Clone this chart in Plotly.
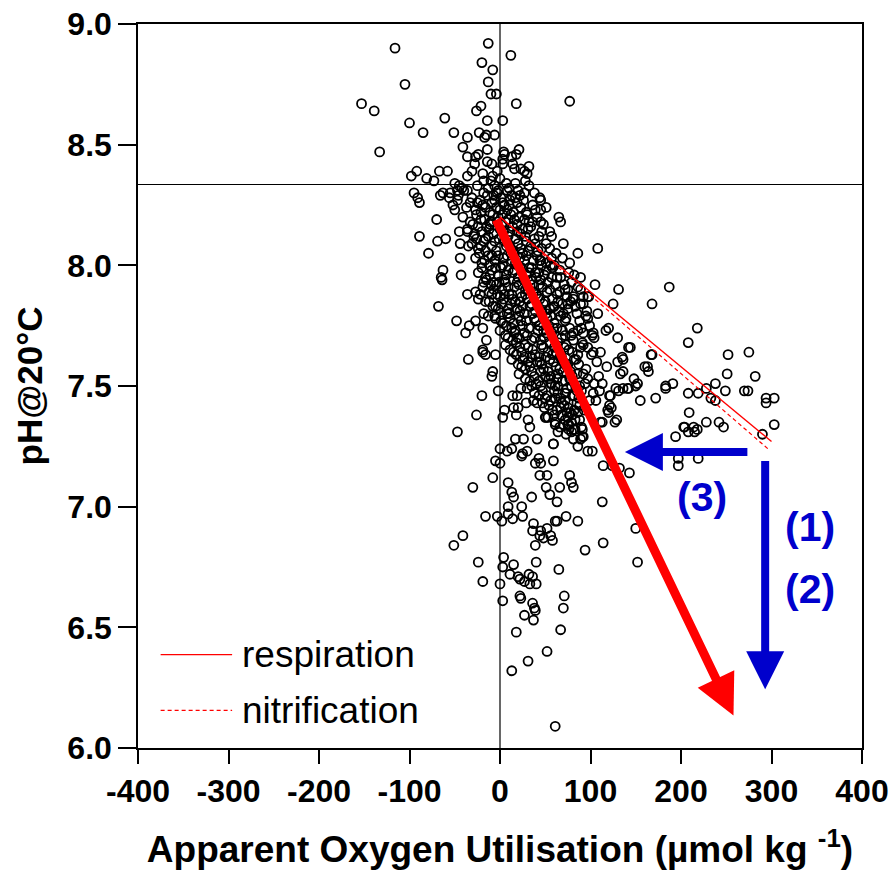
import plotly.graph_objects as go

# --- Samples: apparent oxygen utilisation (umol/kg) vs pH at 20 C -------------
# Surface waters, above the reference line
upper_samples = [
    (-116, 8.90), (-13, 8.92), (12, 8.87), (-20, 8.84), (-8, 8.81), (-105, 8.75),
    (-13, 8.76), (-10, 8.71), (-4, 8.71), (-153, 8.67), (-139, 8.64), (18, 8.67),
    (77, 8.68), (-21, 8.66), (-26, 8.64), (-61, 8.61), (-100, 8.59), (-14, 8.60),
    (3, 8.60), (-85, 8.55), (-51, 8.55), (-36, 8.53), (-23, 8.55), (-15, 8.54),
    (-17, 8.53), (-6, 8.54), (-133, 8.47), (-41, 8.49), (-14, 8.48), (4, 8.47),
    (5, 8.46), (21, 8.48), (13, 8.45), (18, 8.46), (-36, 8.45), (-27, 8.45),
    (-24, 8.46), (-28, 8.42), (-14, 8.43), (-9, 8.42), (-3, 8.39), (3, 8.44),
    (3, 8.42), (14, 8.42), (23, 8.40), (32, 8.41), (16, 8.40), (27, 8.39),
    (-92, 8.39), (-98, 8.37), (-81, 8.36), (-73, 8.35), (-67, 8.39), (-58, 8.39),
    (-50, 8.34), (-36, 8.37), (-31, 8.39), (-19, 8.38), (-18, 8.35), (-8, 8.37),
    (-6, 8.33), (7, 8.34), (17, 8.34), (30, 8.38), (28, 8.35), (32, 8.33),
    (-10, 8.35), (0, 8.36), (10, 8.32), (20, 8.31), (-2, 8.31), (-25, 8.33), (-45, 8.33),
]

# Left flank of the main cloud
left_samples = [
    (-95, 8.30), (-63, 8.30), (-55, 8.30), (-47, 8.31), (-40, 8.31), (-13, 8.32),
    (-3, 8.30), (8, 8.31), (27, 8.30), (38, 8.30), (44, 8.28), (-91, 8.28),
    (-89, 8.26), (-66, 8.29), (-56, 8.28), (-46, 8.29), (-36, 8.31), (-47, 8.27),
    (-42, 8.32), (-52, 8.25), (-50, 8.23), (-70, 8.19), (-89, 8.12), (-69, 8.10),
    (-60, 8.11), (-79, 8.05), (-45, 8.14), (-36, 8.14), (-44, 8.09), (-35, 8.08),
    (-44, 8.03), (-63, 7.98), (-65, 7.95), (-43, 7.96), (-64, 7.94),
    (-68, 7.83), (-48, 7.77), (-38, 7.72), (-34, 7.75), (-27, 7.77), (-19, 7.74),
    (-15, 7.69), (-19, 7.65), (-5, 7.63), (-36, 7.88), (-27, 7.89), (-22, 7.88),
    (-24, 7.86), (-16, 7.85), (-8, 7.83), (-18, 7.80), (-13, 7.79), (-5, 7.78),
    (-3, 7.88), (-10, 7.92), (-18, 7.93), (-35, 7.61), (-19, 7.64), (-16, 7.63),
    (-8, 7.56), (-9, 7.54), (-20, 7.46), (-26, 7.38), (-47, 7.31), (-2, 7.48),
]

# Dense core of the cloud
core_samples = [
    (-31, 8.28), (-22, 8.27), (-14, 8.29), (-9, 8.26), (1, 8.28), (5, 8.25), (13, 8.29),
    (19, 8.26), (26, 8.27), (36, 8.25),
    (-37, 8.24), (-27, 8.23), (-19, 8.25), (-11, 8.22), (-4, 8.24), (3, 8.21), (10, 8.25),
    (15, 8.22), (23, 8.24), (30, 8.21), (39, 8.23), (51, 8.24),
    (-41, 8.20), (-33, 8.18), (-26, 8.21), (-17, 8.19), (-11, 8.17), (-2, 8.20), (6, 8.18),
    (12, 8.21), (19, 8.17), (27, 8.19), (34, 8.16), (41, 8.20), (55, 8.14),
    (-36, 8.15), (-29, 8.12), (-20, 8.14), (-15, 8.16), (-7, 8.13), (0, 8.15), (9, 8.12),
    (14, 8.16), (23, 8.13), (31, 8.15), (38, 8.11), (46, 8.14), (57, 8.12),
    (-31, 8.09), (-24, 8.07), (-18, 8.10), (-9, 8.08), (-4, 8.06), (5, 8.10), (12, 8.07),
    (20, 8.09), (25, 8.05), (34, 8.08), (42, 8.06), (51, 8.09), (62, 8.05),
    (-27, 8.03), (-20, 8.01), (-13, 8.04), (-6, 8.02), (3, 8.00), (8, 8.04), (17, 8.01),
    (22, 8.03), (32, 7.99), (37, 8.02), (46, 8.00), (57, 8.03), (66, 7.98), (77, 8.01),
    (-24, 7.97), (-16, 7.95), (-9, 7.98), (-2, 7.96), (5, 7.94), (14, 7.97), (19, 7.93),
    (29, 7.96), (34, 7.94), (43, 7.97), (53, 7.93), (63, 7.95), (71, 7.92), (82, 7.96),
    (-19, 7.91), (-12, 7.89), (-4, 7.92), (2, 7.90), (10, 7.88), (16, 7.91), (24, 7.87),
    (31, 7.90), (40, 7.88), (47, 7.91), (58, 7.86), (66, 7.89), (74, 7.87), (89, 7.90),
    (-12, 7.85), (-5, 7.83), (4, 7.86), (9, 7.82), (17, 7.85), (25, 7.83), (30, 7.86),
    (39, 7.81), (48, 7.84), (55, 7.82), (64, 7.85), (70, 7.80), (83, 7.83), (96, 7.81),
    (-6, 7.79), (1, 7.77), (8, 7.80), (15, 7.76), (21, 7.79), (29, 7.77), (36, 7.80),
    (44, 7.75), (52, 7.78), (60, 7.76), (67, 7.79), (77, 7.74), (88, 7.77), (99, 7.75),
    (0, 7.73), (6, 7.71), (13, 7.74), (19, 7.70), (27, 7.72), (35, 7.69), (42, 7.73),
    (49, 7.70), (57, 7.72), (64, 7.68), (72, 7.71), (81, 7.69), (92, 7.72), (104, 7.70),
    (6, 7.67), (11, 7.65), (18, 7.68), (24, 7.64), (31, 7.66), (39, 7.63), (46, 7.67),
    (53, 7.64), (60, 7.66), (68, 7.62), (76, 7.65), (86, 7.63), (97, 7.66),
    (13, 7.61), (20, 7.59), (27, 7.62), (33, 7.58), (41, 7.60), (48, 7.57), (55, 7.61),
    (62, 7.58), (70, 7.60), (78, 7.56), (87, 7.59), (95, 7.57), (107, 7.60),
    (21, 7.55), (28, 7.53), (35, 7.56), (43, 7.52), (50, 7.54), (57, 7.51), (64, 7.55),
    (72, 7.52), (80, 7.54), (88, 7.50), (97, 7.53), (104, 7.51),
    (30, 7.49), (38, 7.47), (45, 7.50), (52, 7.46), (60, 7.48), (67, 7.45), (74, 7.49),
    (82, 7.46), (90, 7.48), (99, 7.44),
    (41, 7.43), (49, 7.41), (56, 7.44), (63, 7.40), (71, 7.42), (78, 7.39), (85, 7.43),
    (93, 7.40), (53, 7.37), (61, 7.35), (68, 7.38), (76, 7.34), (83, 7.36), (90, 7.33),
    (64, 7.31), (73, 7.30), (81, 7.32),
    (-25, 8.26), (-16, 8.24), (-6, 8.27), (8, 8.23), (17, 8.28), (29, 8.22),
    (-30, 8.17), (-21, 8.19), (-12, 8.15), (-3, 8.18), (4, 8.14), (16, 8.19), (25, 8.15),
    (36, 8.18), (48, 8.17), (-26, 8.11), (-13, 8.12), (-1, 8.11), (7, 8.08), (17, 8.11),
    (29, 8.10), (39, 8.09), (55, 8.07), (-23, 8.05), (-16, 8.06), (-2, 8.04), (12, 8.05),
    (27, 8.02), (41, 8.04), (51, 8.01), (69, 8.03), (-20, 7.99), (-12, 8.00), (1, 7.99),
    (9, 7.98), (24, 7.99), (39, 7.97), (49, 7.96), (58, 7.99), (76, 7.97), (-15, 7.94),
    (-7, 7.93), (6, 7.93), (20, 7.95), (36, 7.92), (45, 7.94), (61, 7.92), (79, 7.93),
    (-9, 7.88), (0, 7.87), (13, 7.88), (28, 7.88), (44, 7.86), (52, 7.89), (69, 7.84),
    (81, 7.86), (-2, 7.82), (12, 7.84), (22, 7.81), (33, 7.83), (51, 7.80), (59, 7.83),
    (75, 7.82), (92, 7.84), (3, 7.76), (11, 7.78), (25, 7.75), (40, 7.77), (48, 7.73),
    (63, 7.74), (72, 7.77), (95, 7.79), (9, 7.70), (16, 7.72), (30, 7.71), (45, 7.69),
    (54, 7.75), (68, 7.70), (86, 7.73), (15, 7.64), (22, 7.66), (36, 7.65), (43, 7.62),
    (58, 7.63), (73, 7.67), (82, 7.61), (101, 7.63), (24, 7.58), (31, 7.60), (46, 7.59),
    (53, 7.56), (66, 7.57), (75, 7.59), (92, 7.55), (33, 7.52), (40, 7.51), (54, 7.53),
    (61, 7.50), (69, 7.52), (85, 7.48), (94, 7.51), (43, 7.46), (50, 7.45), (64, 7.47),
    (72, 7.44), (80, 7.46), (88, 7.42), (58, 7.40), (67, 7.41), (75, 7.37), (86, 7.39),
    (70, 7.34), (79, 7.31),
]

# Most crowded stretch along the main trend
dense_samples = [
    (-18, 8.30), (-7, 8.29), (3, 8.26), (11, 8.27), (22, 8.29), (-33, 8.26), (-21, 8.22),
    (-8, 8.21), (0, 8.23), (9, 8.19), (21, 8.20), (32, 8.18), (-24, 8.16), (-10, 8.18),
    (2, 8.17), (11, 8.14), (19, 8.14), (28, 8.12), (43, 8.12), (-28, 8.13), (-16, 8.11),
    (-6, 8.10), (9, 8.09), (15, 8.06), (23, 8.07), (31, 8.06), (46, 8.07), (-21, 8.08),
    (-9, 8.04), (4, 8.03), (13, 8.02), (20, 8.00), (29, 8.04), (35, 7.99), (44, 8.02),
    (60, 8.00), (-17, 8.02), (-5, 7.99), (7, 7.96), (16, 7.98), (26, 7.94), (32, 7.97),
    (40, 7.95), (51, 7.98), (57, 7.95), (-11, 7.96), (-1, 7.93), (9, 7.91), (21, 7.92),
    (28, 7.90), (37, 7.89), (43, 7.92), (55, 7.90), (63, 7.88), (72, 7.90), (-7, 7.90),
    (5, 7.88), (14, 7.86), (22, 7.85), (35, 7.84), (42, 7.87), (50, 7.85), (60, 7.83),
    (78, 7.85), (2, 7.84), (10, 7.80), (19, 7.82), (27, 7.80), (38, 7.78), (46, 7.81),
    (56, 7.79), (65, 7.81), (73, 7.78), (85, 7.80), (7, 7.75), (17, 7.73), (23, 7.77),
    (32, 7.74), (43, 7.75), (51, 7.72), (59, 7.74), (69, 7.73), (79, 7.71), (90, 7.74),
    (14, 7.69), (21, 7.70), (28, 7.67), (38, 7.70), (48, 7.66), (55, 7.68), (62, 7.64),
    (71, 7.66), (80, 7.64), (92, 7.67), (18, 7.63), (25, 7.61), (35, 7.62), (44, 7.60),
    (51, 7.62), (59, 7.60), (66, 7.62), (74, 7.58), (84, 7.61), (28, 7.57), (38, 7.54),
    (45, 7.56), (56, 7.54), (63, 7.53), (70, 7.56), (77, 7.53), (85, 7.55), (35, 7.50),
    (47, 7.48), (56, 7.51), (64, 7.50), (72, 7.47), (79, 7.50), (87, 7.45), (47, 7.43),
    (54, 7.42), (61, 7.45), (68, 7.43), (75, 7.41), (82, 7.40), (60, 7.38), (72, 7.36),
    (80, 7.38), (88, 7.36), (66, 7.33), (76, 7.32),
]

# Deeper, low-pH samples below the cloud
lower_samples = [
    (5, 7.40), (3, 7.37), (15, 7.41), (18, 7.38), (0, 7.24), (-5, 7.19), (0, 7.18),
    (8, 7.23), (13, 7.24), (17, 7.28), (26, 7.28), (25, 7.22), (24, 7.21), (30, 7.23),
    (41, 7.28), (-8, 7.12), (-30, 7.08), (9, 7.10), (13, 7.06), (15, 7.04), (9, 7.00),
    (9, 6.97), (-16, 6.96), (-3, 6.96), (2, 6.94), (14, 6.95), (25, 6.96), (24, 7.00),
    (35, 7.04), (44, 7.13), (52, 7.13), (51, 7.08), (55, 7.05), (63, 7.02), (66, 7.08),
    (77, 7.13), (79, 7.10), (81, 7.08), (43, 7.20), (39, 7.18), (45, 7.18), (59, 7.19),
    (59, 7.26), (61, 7.34), (51, 7.37), (33, 7.33), (31, 7.36), (37, 7.44), (29, 7.43),
    (20, 7.41), (23, 7.49), (14, 7.46), (19, 7.46), (73, 6.96), (86, 6.94), (45, 6.90),
    (52, 6.91), (61, 6.94), (37, 6.93), (113, 7.02), (114, 7.17), (124, 7.17),
    (132, 7.16), (143, 7.14), (150, 6.91), (91, 7.32), (92, 7.29), (89, 7.28), (86, 7.25),
    (97, 7.23), (102, 7.23), (81, 7.28), (75, 7.34), (83, 7.32), (79, 7.35), (74, 7.39),
    (111, 7.35), (119, 7.40), (129, 7.36), (123, 7.41), (50, 7.37), (59, 7.26), (91, 7.29),
    (120, 7.39), (127, 7.35), (113, 7.35),
    (-41, 6.88), (-51, 6.84), (-24, 6.77), (-19, 6.69), (4, 6.79), (3, 6.75), (15, 6.76),
    (11, 6.72), (0, 6.68), (3, 6.61), (20, 6.71), (22, 6.70), (32, 6.72), (36, 6.71),
    (27, 6.69), (33, 6.68), (40, 6.68), (40, 6.77), (22, 6.63), (23, 6.62), (36, 6.60),
    (38, 6.58), (39, 6.57), (27, 6.55), (37, 6.53), (18, 6.48), (31, 6.36), (13, 6.32),
    (52, 6.40), (67, 6.49), (70, 6.58), (71, 6.63), (65, 6.74), (61, 6.09), (36, 6.90),
    (44, 6.88), (56, 6.88), (58, 6.86), (48, 6.87), (39, 6.84), (63, 6.94), (94, 6.82),
    (114, 6.85), (152, 6.77),
]

# High-AOU samples to the right of the cloud
right_samples = [
    (45, 8.27), (45, 8.23), (45, 8.18), (65, 8.20), (67, 8.18), (70, 8.09), (86, 8.05),
    (108, 8.07), (108, 7.80), (45, 8.02), (56, 8.00), (67, 7.95), (75, 7.90), (81, 7.87),
    (89, 7.84), (97, 7.87), (75, 7.84), (97, 7.78), (81, 7.72), (89, 7.66), (103, 7.72),
    (89, 7.95), (98, 7.87), (86, 7.91), (105, 7.92), (92, 7.87), (120, 7.74), (130, 7.70),
    (142, 7.66), (136, 7.61), (130, 7.60), (118, 7.58), (109, 7.54), (113, 7.51),
    (103, 7.47), (122, 7.46), (150, 7.50), (133, 7.55), (103, 7.64), (91, 7.68),
    (102, 7.71), (117, 7.73), (111, 7.64),
    (131, 7.90), (187, 7.91), (168, 7.84), (125, 7.84), (218, 7.74), (208, 7.68),
    (252, 7.63), (275, 7.64), (282, 7.54), (251, 7.55), (238, 7.51), (249, 7.48),
    (270, 7.48), (274, 7.48), (294, 7.45), (303, 7.45), (294, 7.43), (290, 7.30),
    (303, 7.34), (228, 7.49), (233, 7.45), (238, 7.44), (209, 7.39), (204, 7.33),
    (214, 7.33), (208, 7.31), (215, 7.31), (228, 7.35), (242, 7.35), (247, 7.33),
    (194, 7.29), (191, 7.51), (183, 7.49), (168, 7.63), (163, 7.58), (164, 7.56),
    (148, 7.53), (152, 7.51), (155, 7.44), (172, 7.45), (142, 7.49), (136, 7.49),
    (131, 7.48), (167, 7.63), (160, 7.58), (144, 7.66), (135, 7.62), (136, 7.56),
    (121, 7.46), (110, 7.48), (106, 7.44), (121, 7.42), (141, 7.49), (128, 7.49),
    (183, 7.50), (208, 7.47), (219, 7.47), (203, 7.33), (218, 7.32), (197, 7.20),
    (197, 7.17), (219, 7.20),
]

# Reference lines
surface_ph = 8.335
aou_zero = 0

# Model trajectories (AOU, pH) from the surface end-member
respiration_line = [(0, 8.20), (300, 7.27)]
nitrification_line = [(0, 8.20), (296, 7.24)]

# Process vectors: (tail, head)
main_vector = [(-5, 8.195), (258, 6.135)]
vector_3 = [(275, 7.227), (138, 7.227)]
vector_12 = [(293, 7.195), (293, 6.243)]
vector_labels = [("(3)", 223, 7.04), ("(1)", 343, 6.915), ("(2)", 343, 6.66)]

legend_items = [("respiration", "solid", 6.387), ("nitrification", "dash", 6.156)]

# -----------------------------------------------------------------------------
samples = (upper_samples + left_samples + core_samples + dense_samples
           + lower_samples + right_samples)
aou = [p[0] for p in samples]
ph = [p[1] for p in samples]

RED = "#ff0000"
BLUE = "#0000cc"
FONT = "Liberation Sans, Arial, sans-serif"

fig = go.Figure()

fig.add_trace(go.Scatter(
    x=aou, y=ph, mode="markers",
    marker=dict(symbol="circle-open", size=9, color="black", line=dict(width=1.8)),
    showlegend=False, hoverinfo="x+y",
))

fig.add_trace(go.Scatter(
    x=[p[0] for p in respiration_line], y=[p[1] for p in respiration_line],
    mode="lines", line=dict(color=RED, width=1.4), showlegend=False,
))
fig.add_trace(go.Scatter(
    x=[p[0] for p in nitrification_line], y=[p[1] for p in nitrification_line],
    mode="lines", line=dict(color=RED, width=1.2, dash="4px,3px"), showlegend=False,
))

shapes = [
    dict(type="line", xref="paper", x0=0, x1=1, yref="y", y0=surface_ph, y1=surface_ph,
         line=dict(color="black", width=1.2), layer="below"),
    dict(type="line", xref="x", x0=aou_zero, x1=aou_zero, yref="paper", y0=0, y1=1,
         line=dict(color="black", width=1.2), layer="below"),
]

annotations = []


def vector(tail, head, color, width, size):
    return dict(
        x=head[0], y=head[1], ax=tail[0], ay=tail[1],
        xref="x", yref="y", axref="x", ayref="y",
        text="", showarrow=True, arrowhead=2, arrowsize=size,
        arrowwidth=width, arrowcolor=color,
    )


annotations.append(vector(main_vector[0], main_vector[1], RED, 9, 0.9))
annotations.append(vector(vector_3[0], vector_3[1], BLUE, 8, 0.95))
annotations.append(vector(vector_12[0], vector_12[1], BLUE, 8, 0.95))

for text, lx, ly in vector_labels:
    annotations.append(dict(
        x=lx, y=ly, xref="x", yref="y", text=text, showarrow=False,
        font=dict(family=FONT, size=41, color=BLUE, weight="bold"),
    ))

# Legend drawn inside the plot area, lower left
for name, dash, ly in legend_items:
    shapes.append(dict(
        type="line", xref="x", yref="y", x0=-375, x1=-296, y0=ly, y1=ly,
        line=dict(color=RED, width=1.4 if dash == "solid" else 1.2,
                  dash="solid" if dash == "solid" else "4px,3px"),
    ))
    annotations.append(dict(
        x=-287, y=ly, xref="x", yref="y", text=name, showarrow=False,
        xanchor="left", yanchor="middle",
        font=dict(family=FONT, size=37, color="black"),
    ))

axis_common = dict(
    showgrid=False, zeroline=False, showline=True, mirror=True,
    linecolor="black", linewidth=1.5, ticks="outside", tickcolor="black",
    tickwidth=1.5, automargin=False,
)

fig.update_layout(
    width=892, height=879,
    margin=dict(l=138, r=30, t=24, b=131),
    paper_bgcolor="white", plot_bgcolor="white",
    font=dict(family=FONT, color="black"),
    shapes=shapes, annotations=annotations,
    xaxis=dict(
        range=[-400, 400], tickvals=[-400, -300, -200, -100, 0, 100, 200, 300, 400],
        ticktext=["-400", "-300", "-200", "-100", "0", "100", "200", "300", "400"],
        ticklen=14,
        tickfont=dict(family=FONT, size=32, weight="bold"),
        title=dict(text="Apparent Oxygen Utilisation (µmol kg <sup>-1</sup>)",
                   font=dict(family=FONT, size=37, weight="bold"), standoff=28),
        **axis_common,
    ),
    yaxis=dict(
        range=[6.0, 9.0], tickvals=[6.0, 6.5, 7.0, 7.5, 8.0, 8.5, 9.0],
        ticktext=["6.0", "6.5", "7.0", "7.5", "8.0", "8.5", "9.0"],
        ticklen=18,
        tickfont=dict(family=FONT, size=32, weight="bold"),
        title=dict(text="pH@20°C", font=dict(family=FONT, size=35, weight="bold"),
                   standoff=14),
        **axis_common,
    ),
)

fig.write_html("out.html")
